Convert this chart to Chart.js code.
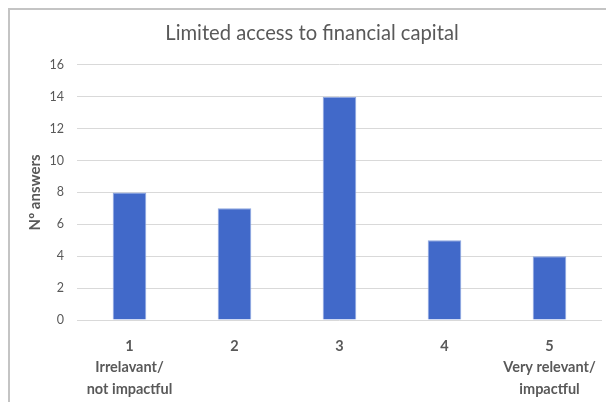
<!DOCTYPE html>
<html>
<head>
<meta charset="utf-8">
<script src="https://cdn.jsdelivr.net/npm/chart.js@4/dist/chart.umd.min.js"></script>
<style>
  html, body { margin: 0; padding: 0; background: #fff; overflow: hidden; }
  body { width: 606px; height: 402px; position: relative; }
  .frame-top { position: absolute; left: 8px; top: 8px; width: 610px; height: 2px; background: #c4c4c4; }
  .frame-left { position: absolute; left: 8px; top: 8px; width: 2px; height: 400px; background: #c4c4c4; }
  #box { position: absolute; left: 8px; top: 8px; width: 608px; height: 394px; }
</style>
</head>
<body>
<div id="box"><canvas id="chart" width="608" height="394"></canvas></div>
<div class="frame-top"></div>
<div class="frame-left"></div>
<script>
// Survey ratings (1 = irrelevant, 5 = very relevant) and answer counts
const categories = ['1', '2', '3', '4', '5'];
const scaleNotes = [['Irrelavant/', 'not impactful'], [], [], [], ['Very relevant/', 'impactful']];
const answers = [8, 7, 14, 5, 4];
const yTicks = [0, 2, 4, 6, 8, 10, 12, 14, 16];

const labels = categories.map((c, i) => [c, ...scaleNotes[i]]);

const grey = '#595959';
const fontFamily = 'Lato, "Open Sans", sans-serif';

new Chart(document.getElementById('chart'), {
  type: 'bar',
  data: {
    labels: labels,
    datasets: [{
      data: answers,
      backgroundColor: '#4169c9',
      borderColor: '#8ea7e0',
      borderWidth: 1,
      categoryPercentage: 1,
      barPercentage: 0.32
    }]
  },
  options: {
    responsive: false,
    animation: false,
    layout: { padding: 0 },
    plugins: {
      legend: { display: false },
      tooltip: { enabled: false },
      title: {
        display: true,
        text: 'Limited access to financial capital',
        color: grey,
        font: { family: fontFamily, size: 20.2, weight: 'normal', lineHeight: 1.2 },
        padding: { top: 12.9, bottom: 19.7 }
      }
    },
    scales: {
      x: {
        grid: { display: false },
        border: { display: false },
        ticks: {
          color: grey,
          padding: 7.5,
          maxRotation: 0,
          autoSkip: false,
          font: { family: fontFamily, size: 14.5, weight: 'bold', lineHeight: 1.48 }
        },
        afterFit(scale) { scale.height = 82; }
      },
      y: {
        min: 0,
        max: 16,
        afterBuildTicks(scale) { scale.ticks = yTicks.map(v => ({ value: v })); },
        grid: { color: '#d9d9d9', lineWidth: 1, drawTicks: false },
        border: { display: false },
        ticks: {
          color: grey,
          padding: 13,
          font: { family: fontFamily, size: 12.5 }
        },
        title: {
          display: true,
          text: 'Nº answers',
          color: grey,
          padding: { top: 18, bottom: 0 },
          font: { family: fontFamily, size: 15, weight: 'bold', lineHeight: 1.2 }
        },
        afterFit(scale) { scale.width = 69; }
      },
      // empty right-hand margin strip so the plot ends short of the frame
      rightMargin: {
        type: 'linear',
        position: 'right',
        grid: { display: false, drawTicks: false },
        border: { display: false },
        ticks: { display: false },
        afterFit(scale) { scale.width = 14; }
      }
    }
  }
});
</script>
</body>
</html>
